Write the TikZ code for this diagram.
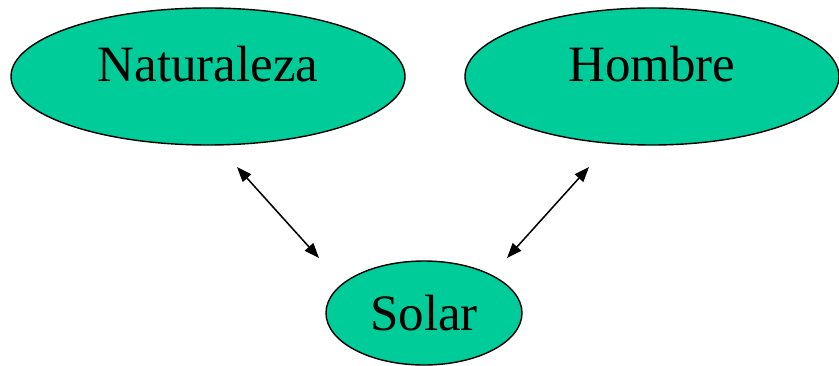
\documentclass[tikz,border=0pt]{standalone}
\usepackage{fontspec}
\setmainfont{Liberation Serif}
\usetikzlibrary{shapes.geometric,arrows.meta}
\definecolor{ovalgreen}{RGB}{0,204,153}
\begin{document}
\begin{tikzpicture}[x=0.03cm,y=-0.03cm,
  oval/.style={ellipse, draw=black, line width=1.2pt, fill=ovalgreen, inner sep=0pt,
    font=\fontsize{43.5}{52}\selectfont},
  link/.style={line width=1.3pt, {Triangle[length=0.45cm,width=0.34cm]}-{Triangle[length=0.45cm,width=0.34cm]}}]
\useasboundingbox (0,0) rectangle (839,366);
\node[oval, minimum width=11.82cm, minimum height=4.11cm, text height=0.9cm, text depth=0.63cm] (nat) at (208,76.5) {Naturaleza};
\node[oval, minimum width=11.22cm, minimum height=4.11cm, text height=0.9cm, text depth=0.63cm] (hom) at (652,76.5) {Hombre};
\node[oval, minimum width=5.88cm, minimum height=3.12cm, text height=1.02cm, text depth=0cm] (sol) at (424,313) {Solar};
\coordinate (a1) at (237,167);
\coordinate (a2) at (319,258);
\coordinate (b1) at (589,167);
\coordinate (b2) at (507,258);
\draw[link] (a1) -- (a2);
\draw[link] (b1) -- (b2);
\end{tikzpicture}
\end{document}
